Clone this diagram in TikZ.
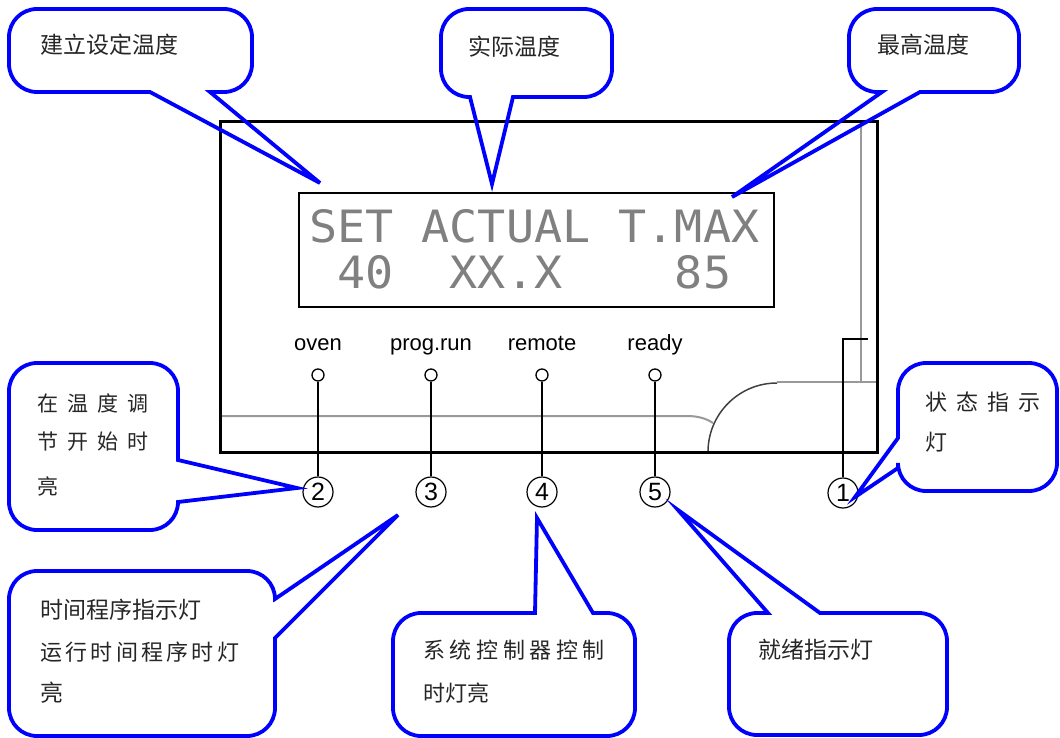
\documentclass[tikz,border=0pt]{standalone}
\usepackage{fontspec}
\setmainfont{Liberation Serif}
\newfontfamily\cjk{Noto Sans CJK SC}
\newfontfamily\lcdfont{DejaVu Sans Mono}
\newfontfamily\hv{Liberation Sans}
\tikzset{
  callout/.style={draw=blue, line width=3.8pt, line join=miter},
  cjktxt/.style={anchor=west, inner sep=0pt, text=black!85, font=\cjk\fontsize{23}{26}\selectfont},
  lcdtxt/.style={anchor=base west, inner sep=0pt, text=black!50, font=\lcdfont\fontsize{44.5}{50}\selectfont},
  lbl/.style={anchor=base, inner sep=0pt, font=\hv\fontsize{22}{24}\selectfont},
  led/.style={circle, draw, line width=1.3pt, minimum size=12pt, inner sep=0pt, fill=white},
  numc/.style={circle, draw, line width=1.2pt, minimum size=30pt, inner sep=0pt, font=\hv\fontsize{25}{25}\selectfont},
  wire/.style={line width=1.4pt},
  grayline/.style={draw=black!40, line width=2pt},
  darkarc/.style={draw=black!75, line width=1.5pt},
  frame/.style={draw, line width=3pt},
  lcdbox/.style={draw, line width=1.5pt}
}
\begin{document}
\begin{tikzpicture}[x=1pt, y=-1pt]
\useasboundingbox (0,0) rectangle (1060,738);

% ---------- device ----------
\draw[grayline] (861,126) -- (861,382);
\draw[grayline] (777,382) -- (876,382);
\draw[darkarc] (708,452) arc[start angle=180, end angle=270, radius=69];
\draw[grayline] (222,416) -- (687,416) .. controls (699,416) and (707,419) .. (713,423);
\draw[frame] (220,122) rectangle (877,452);
\draw[lcdbox] (299,193) rectangle (774,307);

\node[lcdtxt] (d1) at (309,242) {\scalebox{1.05}[1]{SET\phantom{0}ACTUAL\phantom{0}T.MAX}};
\node[lcdtxt] (d2) at (309,288) {\scalebox{1.05}[1]{\phantom{0}40\phantom{00}XX.X\phantom{0000}85}};

% LED labels
\node[lbl] (lb2) at (318,350) {oven};
\node[lbl] (lb3) at (431,350) {prog.run};
\node[lbl] (lb4) at (542,350) {remote};
\node[lbl] (lb5) at (655,350) {ready};

% LEDs
\node[led] (l2) at (318,375) {};
\node[led] (l3) at (431,375) {};
\node[led] (l4) at (542,375) {};
\node[led] (l5) at (655,375) {};

% number circles
\node[numc] (n1) at (843,493) {1};
\node[numc] (n2) at (318,492) {2};
\node[numc] (n3) at (431,492) {3};
\node[numc] (n4) at (542,492) {4};
\node[numc] (n5) at (655,492) {5};

\draw[wire] (l2) -- (n2);
\draw[wire] (l3) -- (n3);
\draw[wire] (l4) -- (n4);
\draw[wire] (l5) -- (n5);
\coordinate (c1) at (868,339);
\draw[wire] (n1) |- (c1);

% ---------- callouts ----------
\coordinate (t1) at (320,183);
\coordinate (t2) at (492,184);
\coordinate (t3) at (732,197);
\coordinate (t4) at (855,497);
\coordinate (t5) at (297,488);
\coordinate (t6) at (398,515);
\coordinate (t7) at (537,518);
\coordinate (t8) at (678,510);

% 1
\draw[callout] (37,9) -- (224,9) arc[start angle=270,end angle=360,radius=28]
  -- (252,64) arc[start angle=0,end angle=90,radius=28]
  -- (210,92) -- (t1) -- (150,92)
  -- (37,92) arc[start angle=90,end angle=180,radius=28]
  -- (9,37) arc[start angle=180,end angle=270,radius=28] -- cycle;
% 2
\draw[callout] (469,9) -- (584,9) arc[start angle=270,end angle=360,radius=28]
  -- (612,69) arc[start angle=0,end angle=90,radius=28]
  -- (513,97) -- (t2) -- (470,97)
  -- (469,97) arc[start angle=90,end angle=180,radius=28]
  -- (441,37) arc[start angle=180,end angle=270,radius=28] -- cycle;
% 3
\draw[callout] (877,9) -- (991,9) arc[start angle=270,end angle=360,radius=28]
  -- (1019,64) arc[start angle=0,end angle=90,radius=28]
  -- (920,92) -- (t3) -- (882,92)
  -- (877,92) arc[start angle=90,end angle=180,radius=28]
  -- (849,37) arc[start angle=180,end angle=270,radius=28] -- cycle;
% 4
\draw[callout] (926,363) -- (1029,363) arc[start angle=270,end angle=360,radius=28]
  -- (1057,463) arc[start angle=0,end angle=90,radius=28]
  -- (926,491) arc[start angle=90,end angle=180,radius=28]
  -- (898,468) -- (t4) -- (898,438)
  -- (898,391) arc[start angle=180,end angle=270,radius=28] -- cycle;
% 5
\draw[callout] (37,363) -- (150,363) arc[start angle=270,end angle=360,radius=28]
  -- (178,460) -- (t5) -- (178,502)
  arc[start angle=0,end angle=90,radius=28]
  -- (37,530) arc[start angle=90,end angle=180,radius=28]
  -- (9,391) arc[start angle=180,end angle=270,radius=28] -- cycle;
% 6
\draw[callout] (37,571) -- (247,571) arc[start angle=270,end angle=360,radius=28]
  -- (t6) -- (275,638)
  -- (275,708) arc[start angle=0,end angle=90,radius=28]
  -- (37,736) arc[start angle=90,end angle=180,radius=28]
  -- (9,599) arc[start angle=180,end angle=270,radius=28] -- cycle;
% 7
\draw[callout] (421,613) -- (535,613) -- (t7) -- (593,613)
  -- (607,613) arc[start angle=270,end angle=360,radius=28]
  -- (635,708) arc[start angle=0,end angle=90,radius=28]
  -- (421,736) arc[start angle=90,end angle=180,radius=28]
  -- (393,641) arc[start angle=180,end angle=270,radius=28] -- cycle;
% 8
\draw[callout] (757,613) -- (768,613) -- (t8) -- (820,613)
  -- (919,613) arc[start angle=270,end angle=360,radius=28]
  -- (947,707) arc[start angle=0,end angle=90,radius=28]
  -- (757,735) arc[start angle=90,end angle=180,radius=28]
  -- (729,641) arc[start angle=180,end angle=270,radius=28] -- cycle;

% ---------- callout texts ----------
\node[cjktxt] (s1) at (40,45) {建立设定温度};
\node[cjktxt] (s2) at (468,47) {实际温度};
\node[cjktxt] (s3) at (877,45) {最高温度};
\node[cjktxt, font=\cjk\fontsize{22}{26}\selectfont\addfontfeature{LetterSpace=41}] (s4a) at (925,402) {状态指示};
\node[cjktxt, font=\cjk\fontsize{22}{26}\selectfont] (s4b) at (925,442) {灯};
\node[cjktxt, font=\cjk\fontsize{21}{26}\selectfont\addfontfeature{LetterSpace=43}] (s5a) at (37,403) {在温度调};
\node[cjktxt, font=\cjk\fontsize{21}{26}\selectfont\addfontfeature{LetterSpace=43}] (s5b) at (37,442) {节开始时};
\node[cjktxt, font=\cjk\fontsize{21}{26}\selectfont] (s5c) at (37,486) {亮};
\node[cjktxt] (s6a) at (40,610) {时间程序指示灯};
\node[cjktxt, font=\cjk\fontsize{22}{26}\selectfont\addfontfeature{LetterSpace=15}] (s6b) at (40,652) {运行时间程序时灯};
\node[cjktxt] (s6c) at (40,693) {亮};
\node[cjktxt, font=\cjk\fontsize{22}{26}\selectfont\addfontfeature{LetterSpace=21}] (s7a) at (423,650) {系统控制器控制};
\node[cjktxt, font=\cjk\fontsize{22}{26}\selectfont] (s7b) at (423,693) {时灯亮};
\node[cjktxt] (s8) at (758,650) {就绪指示灯};
\end{tikzpicture}
\end{document}
